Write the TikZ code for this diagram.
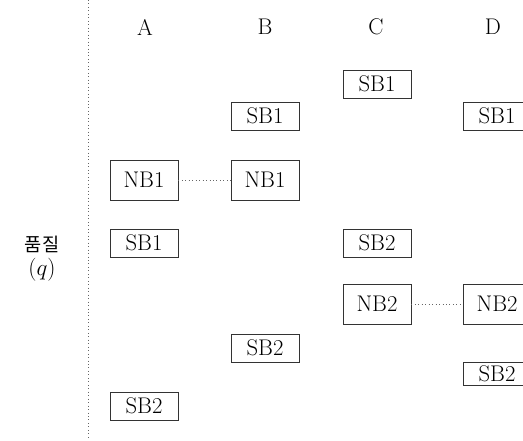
\documentclass[tikz,border=0pt]{standalone}
\usepackage{fontspec}
\newfontfamily\krfont{Noto Sans CJK KR}
\begin{document}
\begin{tikzpicture}[x=0.75pt,y=-0.75pt,
  bx/.style={draw=black!80,line width=0.5pt,minimum width=51pt,minimum height=21pt,inner sep=1.5pt,font=\fontsize{17}{19}\selectfont},
  nbx/.style={bx,minimum height=30pt},
  hd/.style={font=\fontsize{17}{19}\selectfont},
  dotl/.style={draw=black!60,dotted,line width=0.6pt}]
\useasboundingbox (0,0) rectangle (523,440);
\clip (0,0) rectangle (523,440);
\coordinate (vt) at (88,0);
\coordinate (vb) at (88,440);
\draw[dotl] (vt) -- (vb);
\node[hd] (hA) at (145,27) {A};
\node[hd] (hB) at (265,27) {B};
\node[hd] (hC) at (376,27) {C};
\node[hd] (hD) at (493,27) {D};
\node[font=\krfont\fontsize{14}{16}\selectfont] (q1) at (42,244) {품질};
\node[hd] (q2) at (42,270) {$(q)$};
\node[nbx] (aNB1) at (144,180) {NB1};
\node[bx] (aSB1) at (144,243) {SB1};
\node[bx] (aSB2) at (144,406) {SB2};
\node[bx] (bSB1) at (265,116) {SB1};
\node[nbx] (bNB1) at (265,180) {NB1};
\node[bx] (bSB2) at (265,348) {SB2};
\node[bx] (cSB1) at (377,84) {SB1};
\node[bx] (cSB2) at (377,243) {SB2};
\node[nbx] (cNB2) at (377,304) {NB2};
\node[bx] (dSB1) at (497,116) {SB1};
\node[nbx] (dNB2) at (497,304) {NB2};
\node[bx,minimum height=17pt,inner sep=0.5pt] (dSB2) at (497,374) {SB2};
\draw[dotl] (aNB1) -- (bNB1);
\draw[dotl] (cNB2) -- (dNB2);
\end{tikzpicture}
\end{document}
